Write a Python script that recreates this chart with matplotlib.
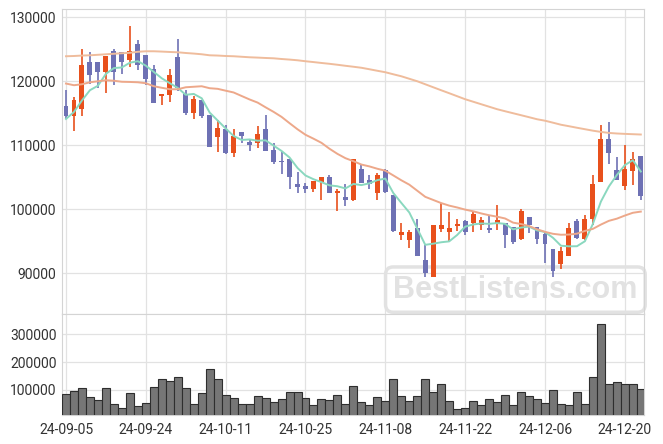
import numpy as np
import pandas as pd
import matplotlib.pyplot as plt
from matplotlib.ticker import StrMethodFormatter

plt.rcParams['font.family'] = ['Roboto', 'DejaVu Sans']

holidays = ['2024-09-16', '2024-09-17', '2024-09-18', '2024-10-01', '2024-10-03', '2024-10-09']
dates = pd.bdate_range('2024-09-05', '2024-12-24', freq='C', holidays=holidays)

open_ = [116100, 114600, 115700, 123000, 123000, 121500, 124800, 124500, 123400, 125800,
         124100, 121900, 117700, 117900, 123800, 118000, 115000, 117000, 114700, 111300,
         112600, 108800, 112000, 110500, 110400, 112600, 109300, 107500, 107900, 104000,
         103600, 103200, 104300, 105000, 102600, 101900, 101500, 106300, 104500, 102500,
         106100, 102200, 95900, 95200, 97100, 92000, 89400, 96900, 96500, 97300,
         98100, 97800, 97500, 97100, 97700, 97900, 97200, 95400, 98800, 97200,
         96100, 93700, 91400, 92700, 98100, 95300, 98500, 104300, 110900, 106100,
         103600, 106000, 108300]
high = [118600, 117500, 125000, 124600, 123000, 123900, 125000, 124500, 128600, 126400,
        124100, 122500, 118000, 121900, 126600, 118600, 117700, 117000, 114700, 114000,
        113200, 112500, 112000, 110900, 113000, 114800, 110300, 109000, 107900, 105800,
        104100, 104400, 105000, 105300, 103100, 103900, 107900, 107000, 105300, 105600,
        106200, 102200, 97900, 96800, 98400, 94400, 97500, 101000, 99600, 98500,
        98300, 99600, 98700, 98900, 100700, 97900, 97200, 100000, 98800, 97200,
        96600, 93700, 94100, 97800, 98500, 99100, 105400, 113100, 113600, 108200,
        110000, 109000, 108300]
low = [114100, 112200, 114500, 119600, 119000, 118100, 119400, 121100, 122200, 121800,
       119400, 116600, 116300, 116700, 118500, 114700, 114100, 114200, 109700, 109000,
       108600, 108200, 110300, 109100, 109500, 109100, 107100, 105500, 103200, 102500,
       102600, 102700, 101400, 102500, 99700, 100500, 101300, 104100, 103100, 101500,
       102500, 96500, 95200, 94000, 92700, 89400, 89400, 96500, 94900, 96600,
       95900, 96500, 96700, 96200, 96700, 94000, 94600, 95200, 96300, 94600,
       91600, 89400, 90700, 92700, 95400, 95200, 97500, 104300, 107000, 104500,
       103000, 103800, 101500]
close = [114600, 117000, 122500, 121000, 121400, 123900, 121500, 123000, 124700, 122600,
         120400, 116600, 118000, 120900, 118900, 115000, 117300, 114600, 109700, 112700,
         108800, 111400, 111500, 110100, 111700, 109100, 107300, 107300, 105000, 103500,
         103200, 104400, 105000, 102500, 102800, 101500, 107900, 104100, 103900, 105300,
         102700, 96600, 96400, 96400, 92700, 90000, 97500, 97500, 97100, 97700,
         96500, 99200, 98300, 96800, 98300, 95900, 94900, 99700, 97500, 95400,
         94600, 90400, 93500, 97000, 95500, 98500, 104000, 110900, 108800, 104500,
         106200, 107900, 102000]
volume = [84600, 96400, 106000, 76200, 64300, 106000, 48800, 34500, 88100, 42900,
          52400, 109500, 138100, 131000, 145200, 106000, 48800, 88100, 173800, 138100,
          81000, 70200, 48800, 48800, 77400, 70200, 56000, 66700, 91700, 91700,
          70200, 45200, 66700, 64300, 81000, 48800, 113100, 56000, 45200, 73800,
          59500, 138100, 77400, 59500, 77400, 138100, 91700, 120200, 59500, 31000,
          34500, 59500, 45200, 66700, 56000, 81000, 45200, 91700, 77400, 66700,
          52400, 98800, 48800, 45200, 91700, 48800, 145200, 338100, 120200, 127400,
          120200, 120200, 102400]

# averages before the window is full (earlier days are not in the chart)
ma5_head = [114100, 115200, 117000, 118600]
ma20_head = [119640, 119380, 119530, 119840, 120000, 120160, 120080, 119920, 119890, 119840,
             119690, 119220, 118980, 118750, 118750, 119060, 119140, 119220, 118910]
ma_long = [123910, 123950, 124020, 124060, 124140, 124220, 124300, 124380, 124450, 124610,
           124690, 124690, 124640, 124580, 124530, 124420, 124330, 124220, 124060, 124020,
           123950, 123910, 123830, 123750, 123700, 123640, 123590, 123480, 123390, 123280,
           123130, 123000, 122860, 122730, 122580, 122420, 122270, 122110, 121880, 121640,
           121410, 121090, 120780, 120390, 120000, 119530, 119060, 118590, 118130, 117660,
           117190, 116800, 116410, 116020, 115630, 115310, 115000, 114690, 114380, 114060,
           113830, 113520, 113200, 112970, 112730, 112500, 112270, 112080, 111920, 111830,
           111770, 111720, 111670]

price_ticks = [90000, 100000, 110000, 120000, 130000]
vol_ticks = [100000, 200000, 300000]

up_col, down_col = '#e8501c', '#6e71b4'
grid_col = '#e2e2e2'

cl = pd.Series(close, dtype=float)
def moving(n, head):
    m = cl.rolling(n).mean()
    m.iloc[:n - 1] = head
    return m

x = np.arange(len(dates))
o, h, l, c = map(np.array, (open_, high, low, close))
up = c >= o
cols = np.where(up, up_col, down_col)

fig = plt.figure(figsize=(6.63, 4.44), dpi=100)
W, H = 663, 444
ax = fig.add_axes([62 / W, 1 - 314 / H, 582 / W, 305 / H])
axv = fig.add_axes([62 / W, 1 - 415 / H, 582 / W, 101 / H], sharex=ax)

for a in (ax, axv):
    a.set_axisbelow(True)
    a.grid(True, color=grid_col, lw=0.9)
    for s in a.spines.values():
        s.set_color('#d4d4d4')
    a.tick_params(length=0, labelsize=10, labelcolor='#333333', pad=4)

ax.vlines(x, l, h, color=cols, lw=1.2, zorder=3)
ax.bar(x, np.maximum(np.abs(c - o), 150), bottom=np.minimum(o, c), width=0.62,
       color=cols, zorder=4)
ax.plot(x, moving(5, ma5_head), color='#8ad8bf', lw=1.4, zorder=5)
ax.plot(x, moving(20, ma20_head), color='#eda88a', lw=1.4, zorder=5)
ax.plot(x, ma_long, color='#efbc9c', lw=1.4, zorder=5)

ax.set_ylim(83600, 131300)
ax.set_yticks(price_ticks)
ax.yaxis.set_major_formatter(StrMethodFormatter('{x:.0f}'))
ax.tick_params(axis='x', labelbottom=False)

ax.text(0.779, 0.08, 'BestListens.com', transform=ax.transAxes, ha='center', va='center',
        fontsize=22, fontweight='bold', family='Liberation Sans', color='#e2e2e2', zorder=2,
        bbox=dict(boxstyle='round,pad=0.25', fc='none', ec='#e2e2e2', lw=2.5))

axv.bar(x, volume, width=1.0, color='#767676', edgecolor='#2e2e2e', lw=0.8, zorder=3)
axv.set_ylim(10000, 373000)
axv.set_yticks(vol_ticks)
axv.yaxis.set_major_formatter(StrMethodFormatter('{x:.0f}'))

tick_idx = x[::10]
axv.set_xticks(tick_idx)
axv.set_xticklabels([dates[i].strftime('%y-%m-%d') for i in tick_idx])
axv.tick_params(axis='x', pad=6)
axv.set_xlim(-0.5, 72.4)

fig.savefig('out.png', dpi=100)
